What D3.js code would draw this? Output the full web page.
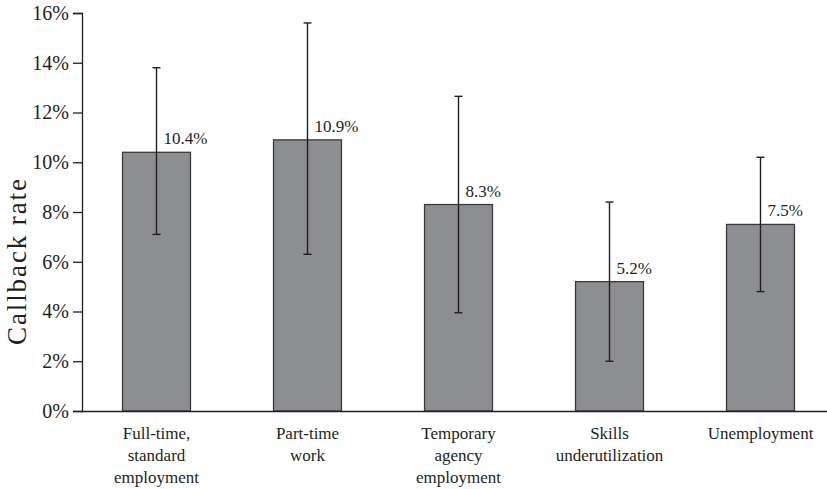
<!DOCTYPE html>
<html><head><meta charset="utf-8">
<script src="https://cdn.jsdelivr.net/npm/d3@7"></script>
<style>body{margin:0;background:#fff}svg{display:block}text,tspan{font-family:"Liberation Serif","Times New Roman",serif;fill:#231f20}</style>
</head><body><svg id="c" width="827" height="489"></svg>
<script>
const categories = [["Full-time,","standard","employment"],["Part-time","work"],["Temporary","agency","employment"],["Skills","underutilization"],["Unemployment"]];
const values = [10.4, 10.9, 8.3, 5.2, 7.5];
const lower = [7.1, 6.3, 3.95, 2.0, 4.8];
const upper = [13.8, 15.6, 12.65, 8.4, 10.2];
const yTicks = [0, 2, 4, 6, 8, 10, 12, 14, 16];
const SERIF = "Liberation Serif";

const svg = d3.select("#c");
const keys = categories.map((c,i)=>i);
const x = d3.scaleBand().domain(keys).range([81, 836]).paddingInner(0.55).paddingOuter(0.275);
const y = d3.scaleLinear().domain([0,16]).range([411, 13]);

// bars
svg.selectAll("rect.bar").data(values).join("rect")
  .attr("x",(d,i)=>x(i)).attr("y",d=>y(d))
  .attr("width",x.bandwidth()).attr("height",d=>y(0)-y(d))
  .attr("fill","#8d8e92").attr("stroke","#3a3a3a").attr("stroke-width",1.3);

// error bars
const cx = i => x(i)+x.bandwidth()/2;
const eg = svg.append("g").attr("stroke","#231f20").attr("stroke-width",1.4);
values.forEach((v,i)=>{
  eg.append("line").attr("x1",cx(i)).attr("x2",cx(i)).attr("y1",y(lower[i])).attr("y2",y(upper[i]));
  eg.append("line").attr("x1",cx(i)-4).attr("x2",cx(i)+4).attr("y1",y(lower[i])).attr("y2",y(lower[i]));
  eg.append("line").attr("x1",cx(i)-4).attr("x2",cx(i)+4).attr("y1",y(upper[i])).attr("y2",y(upper[i]));
});

// value labels
svg.selectAll("text.val").data(values).join("text")
  .attr("x",(d,i)=>cx(i)+7).attr("y",d=>y(d)-8)
  .attr("font-family",SERIF).attr("font-size",17).text(d=>d.toFixed(1)+"%");

// y axis
const ya = svg.append("g").attr("transform","translate(82,0)")
  .call(d3.axisLeft(y).tickValues(yTicks).tickSize(9).tickPadding(4).tickFormat(d=>d+"%"));
ya.attr("font-family",SERIF);
ya.select(".domain").attr("stroke","#231f20").attr("stroke-width",1.3);
ya.selectAll(".tick line").attr("stroke","#231f20").attr("stroke-width",1.3);
ya.selectAll(".tick text").attr("font-size",20).attr("fill","#231f20");

// x axis
const xa = svg.append("g").attr("transform","translate(0,411)")
  .call(d3.axisBottom(x).tickSize(0).tickFormat(""));
xa.attr("font-family",SERIF);
xa.select(".domain").attr("stroke","#231f20").attr("stroke-width",1.3);
xa.selectAll(".tick").each(function(d){
  const t = d3.select(this).append("text")
    .attr("text-anchor","middle").attr("font-family",SERIF)
    .attr("font-size",17).attr("fill","#231f20");
  categories[d].forEach((line,j)=>t.append("tspan").attr("x",0).attr("y",28+j*22).text(line));
});

// y label
svg.append("text").attr("transform","translate(26,262) rotate(-90)")
  .attr("text-anchor","middle").attr("font-family",SERIF).attr("font-size",27)
  .attr("textLength",166).attr("lengthAdjust","spacing").text("Callback rate");
</script></body></html>
